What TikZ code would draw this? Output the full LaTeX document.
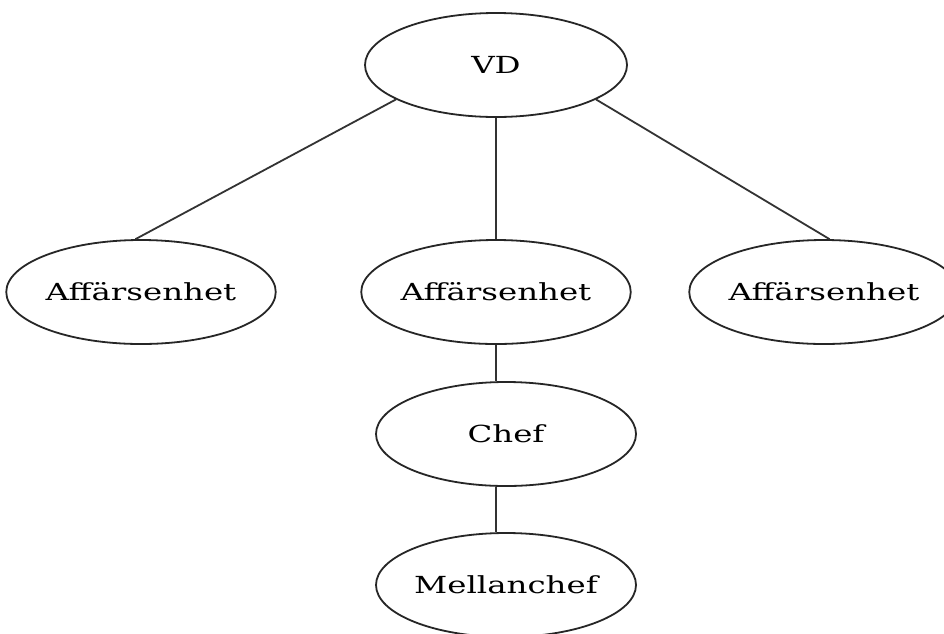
\documentclass[tikz,border=0pt]{standalone}
\usepackage{fontspec}
\newfontfamily\boxfont[FakeStretch=1.38]{DejaVu Serif}
\usetikzlibrary{shapes.geometric}
\begin{document}
\begin{tikzpicture}[x=1pt,y=-1pt,
  unit/.style={ellipse,draw=black!85,line width=1.8pt,inner sep=0pt,
    minimum width=260pt,minimum height=104pt,
    font=\boxfont\fontsize{23.5}{28}\selectfont},
  link/.style={draw=black!80,line width=1.8pt}]
\fill[white] (0,0) rectangle (944,633);
\clip (0,0) rectangle (944,633);
\node[unit,minimum width=262pt] (vd) at (496,65) {VD};
\node[unit] (left) at (141,292) {Affärsenhet};
\node[unit] (mid) at (496,292) {Affärsenhet};
\node[unit] (right) at (824,292) {Affärsenhet};
\node[unit] (chef) at (506,434) {Chef};
\node[unit] (mellan) at (506,585) {Mellanchef};
\draw[link] (vd.199) -- (left.96);
\draw[link] (vd.341) -- (right.84);
\draw[link] (vd.south) -- (mid.north);
\draw[link] (mid.south) -- (mid.south |- chef.north);
\draw[link] (chef.south -| mid.south) -- (mid.south |- mellan.north);
\end{tikzpicture}
\end{document}
